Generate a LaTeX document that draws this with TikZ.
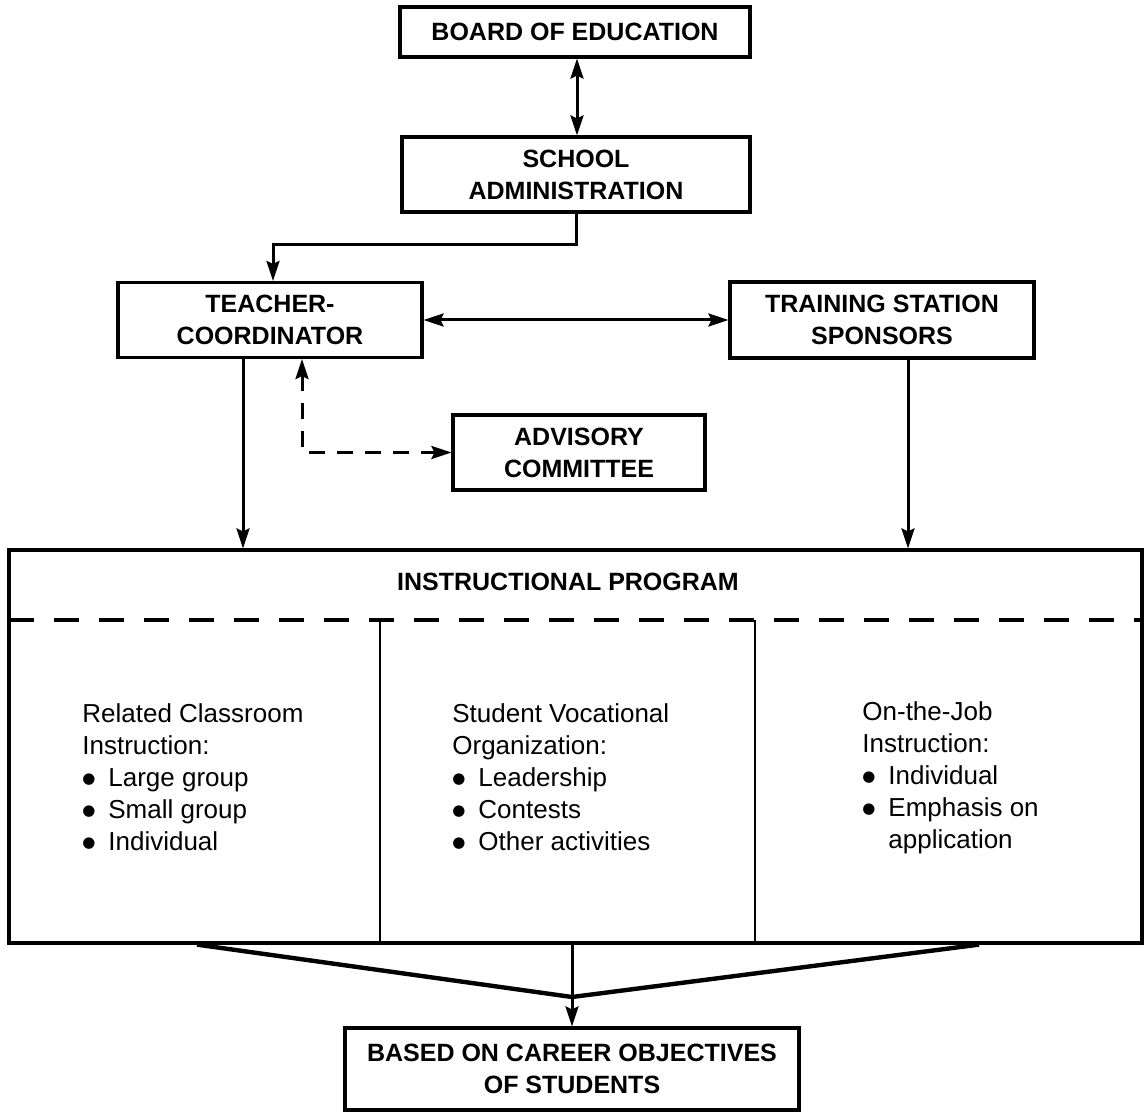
\documentclass[tikz,border=0pt]{standalone}
\usepackage{fontspec}
\setmainfont{Liberation Sans}
\newfontfamily\symfont{DejaVu Sans}
\usetikzlibrary{arrows.meta,calc}
\newcommand{\bul}{\makebox[1em][l]{\raisebox{1.2pt}{\symfont\fontsize{7.5}{8}\selectfont ●}}}
\begin{document}
\begin{tikzpicture}[x=0.5pt,y=-0.5pt,
  box/.style={draw,line width=1.6pt,inner sep=0pt,align=center,
    font=\fontsize{12.5}{16}\selectfont\bfseries},
  conn/.style={line width=1.5pt,-{Stealth[length=10pt,width=6.5pt,inset=1.5pt]}},
  dconn/.style={line width=1.5pt,{Stealth[length=10pt,width=6.5pt,inset=1.5pt]}-{Stealth[length=10pt,width=6.5pt,inset=1.5pt]}},
  bodytext/.style={anchor=base west,align=left,inner sep=0pt,
    font=\fontsize{13}{16}\selectfont}]
\useasboundingbox[fill=white] (0,0) rectangle (1145,1112);

% boxes
\node[box,minimum width=175pt,minimum height=25pt] (board) at (575,32) {BOARD OF EDUCATION};
\node[box,minimum width=174pt,minimum height=37.5pt] (admin) at (576,174.5) {SCHOOL\\ADMINISTRATION};
\node[box,minimum width=152pt,minimum height=37.5pt] (teacher) at (270,320) {TEACHER-\\COORDINATOR};
\node[box,minimum width=152pt,minimum height=38pt] (tss) at (882,320) {TRAINING STATION\\SPONSORS};
\node[box,minimum width=126pt,minimum height=37.5pt] (advisory) at (579,452.5) {ADVISORY\\COMMITTEE};
\node[draw,line width=1.6pt,inner sep=0pt,minimum width=566.5pt,minimum height=196.5pt] (program) at (575.5,746.5) {};
\node[box,draw=none] (progtitle) at (568,582) {INSTRUCTIONAL PROGRAM};
\node[box,minimum width=227pt,minimum height=41pt] (career) at (572,1069) {BASED ON CAREER OBJECTIVES\\OF STUDENTS};

% internal lines of the program box
\draw[line width=1.6pt,dash pattern=on 12.5pt off 10pt] (9,620) -- (1142,620);
\draw[line width=1.2pt] (380,620) -- (380,943);
\draw[line width=1.2pt] (755,620) -- (755,943);

% column texts (anchor base = baseline of the last line)
\node[bodytext] (col1) at (82,850) {Related Classroom\\Instruction:\\\bul Large group\\\bul Small group\\\bul Individual};
\node[bodytext] (col2) at (452,850) {Student Vocational\\Organization:\\\bul Leadership\\\bul Contests\\\bul Other activities};
\node[bodytext] (col3) at (862,848) {On-the-Job\\Instruction:\\\bul Individual\\\bul Emphasis on\\\hspace*{1em}application};

% connectors
\draw[dconn] ([xshift=1pt]board.south) -- ([xshift=1pt]board.south |- admin.north);
\draw[conn] (admin.south) -- ++(0,31) -| ([xshift=1.5pt]teacher.north);
\draw[dconn] (teacher.east) -- (tss.west);
\draw[conn] ([xshift=-13.5pt]teacher.south) -- ([xshift=-13.5pt]teacher.south |- program.north);
\draw[line width=1.5pt,dash pattern=on 8pt off 6pt,{Stealth[length=10pt,width=6.5pt,inset=1.5pt]}-{Stealth[length=10pt,width=6.5pt,inset=1.5pt]}]
  ([xshift=16pt]teacher.south) |- (advisory.west);
\draw[conn] ([xshift=13pt]tss.south) -- ([xshift=13pt]tss.south |- program.north);

% funnel to career objectives
\coordinate (fl) at ([xshift=-189.25pt]program.south);
\coordinate (fr) at ([xshift=201.75pt]program.south);
\coordinate (apex) at (572,997);
\draw[line width=2.2pt,line join=round] (fl) -- (apex) -- (fr);
\draw[conn] (career.north |- program.south) -- (career.north);
\end{tikzpicture}
\end{document}
